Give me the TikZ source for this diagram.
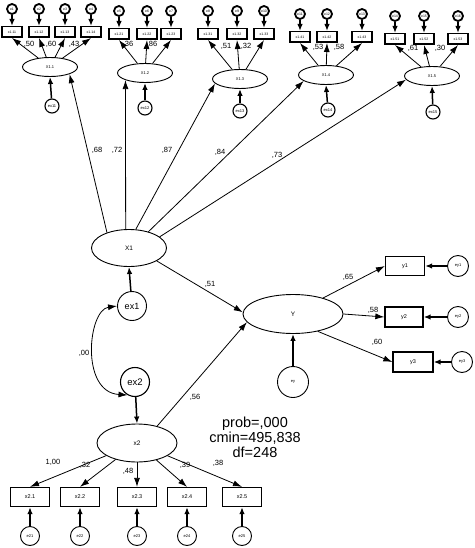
\documentclass[tikz,border=0pt]{standalone}
\usepackage{fontspec}
\setmainfont{Liberation Sans}
\usetikzlibrary{shapes.geometric,arrows.meta}
\begin{document}
\begin{tikzpicture}[x=1pt,y=-1pt,
  arr/.style={-{Latex[length=9pt,width=6pt]}, line width=0.8pt},
  sarr/.style={-{Latex[length=7pt,width=5.5pt]}, line width=1.5pt},
  lat/.style={ellipse, draw, line width=0.9pt, inner sep=0pt, font=\fontsize{6.5}{6.5}\selectfont},
  tlat/.style={lat, minimum width=55pt, minimum height=19pt, font=\fontsize{4}{4}\selectfont},
  obs/.style={rectangle, draw, line width=1.3pt, inner sep=0pt, font=\fontsize{5.5}{5.5}\selectfont},
  tobs/.style={obs, minimum width=20pt, minimum height=10.5pt, line width=1.5pt, font=\fontsize{3.5}{4}\selectfont},
  bobs/.style={obs, minimum width=39pt, minimum height=19pt},
  err/.style={circle, draw, line width=0.9pt, inner sep=0pt, font=\fontsize{4}{4}\selectfont},
  terr/.style={circle, draw, line width=1.8pt, inner sep=0pt, minimum size=10pt, font=\fontsize{3.5}{3.5}\selectfont},
  lab/.style={font=\fontsize{7.5}{8}\selectfont, inner sep=0.5pt},
]
\useasboundingbox (0,0) rectangle (474,548);

% first-order latent factors
\node[tlat] (X11) at (50,67) {X1.1};
\node[tlat] (X12) at (145,73) {X1.2};
\node[tlat] (X13) at (240,79) {X1.3};
\node[tlat] (X14) at (326,75) {X1.4};
\node[tlat] (X15) at (432,76) {X1.5};

% residuals of first-order factors
\node[err, minimum size=14pt, line width=1.1pt] (r1) at (52,106) {ex11};
\node[err, minimum size=14pt, line width=1.1pt] (r2) at (145,108) {ex12};
\node[err, minimum size=14pt, line width=1.1pt] (r3) at (240,111) {ex13};
\node[err, minimum size=14pt, line width=1.1pt] (r4) at (328,110) {ex14};
\node[err, minimum size=14pt, line width=1.1pt] (r5) at (433,112) {ex15};
\foreach \r/\g in {r1/X11, r2/X12, r3/X13, r4/X14, r5/X15}
  \draw[sarr] (\r) -- (\g.south);

% indicators of first-order factors
\foreach \n/\px/\py/\lbl/\el/\g in {
  a/12/32/x1.11/e1/X11, b/39/32/x1.12/e2/X11, c/65/32/x1.13/e3/X11, d/91/32/x1.14/e4/X11,
  f/119/34/x1.21/e5/X12, g/147/34/x1.22/e6/X12, h/171/34/x1.23/e7/X12,
  i/208/34/x1.31/e8/X13, j/237/34/x1.32/e9/X13, k/264/34/x1.33/e10/X13,
  l/300/37/x1.41/e11/X14, m/327/37/x1.42/e12/X14, o/362/37/x1.43/e13/X14,
  p/395/39/x1.51/e14/X15, q/424/39/x1.52/e15/X15, s/458/39/x1.53/e16/X15}{
  \node[tobs] (\n) at (\px,\py) {\lbl};
  \node[terr] (e\n) at (\px,\py-23) {\el};
  \draw[sarr] (e\n) -- (\n.north);
  \draw[arr] (\g) -- (\n.south);
}

% loading labels (top)
\node[lab] (l1) at (29,44) {,50};
\node[lab] (l2) at (51,44) {,60};
\node[lab] (l3) at (74,44) {,43};
\node[lab] (l4) at (128,44) {,36};
\node[lab] (l5) at (152,44) {,86};
\node[lab] (l6) at (226,46) {,51};
\node[lab] (l7) at (246,46) {,32};
\node[lab] (l8) at (318,47) {,53};
\node[lab] (l9) at (339,47) {,58};
\node[lab] (l10) at (413,48) {,61};
\node[lab] (l11) at (440,48) {,30};

% second-order factor
\node[lat, minimum width=75pt, minimum height=37pt] (X1) at (129,248) {X1};
\draw[arr] (X1.145) -- (X11.-20);
\draw[arr] (X1.100) -- (X12.-160);
\draw[arr] (X1.70) -- (X13.-170);
\draw[arr] (X1.40) -- (X14.-165);
\draw[arr] (X1.20) -- (X15.-172);
\node[lab] (m1) at (97,150) {,68};
\node[lab] (m2) at (117,150) {,72};
\node[lab] (m3) at (167,150) {,87};
\node[lab] (m4) at (220,152) {,84};
\node[lab] (m5) at (277,155) {,73};

% Y and its indicators
\node[lat, minimum width=100pt, minimum height=39pt] (Y) at (293,314) {Y};
\node[obs, minimum width=39pt, minimum height=19pt] (y1) at (405,266) {y1};
\node[obs, minimum width=38pt, minimum height=20pt] (y2) at (404,317) {y2};
\node[obs, minimum width=40pt, minimum height=20pt] (y3) at (413,362) {y3};
\node[err, minimum size=21pt] (ey1) at (458,266) {ey1};
\node[err, minimum size=21pt] (ey2) at (458,317) {ey2};
\node[err, minimum size=21pt] (ey3) at (462,362) {ey3};
\node[err, minimum size=31pt] (eY) at (293,382) {ey};
\draw[arr] (Y.28) -- (y1.west);
\draw[arr] (Y.east) -- (y2.west);
\draw[arr] (Y.-35) -- (y3.west);
\draw[sarr] (ey1) -- (y1.east);
\draw[sarr] (ey2) -- (y2.east);
\draw[sarr] (ey3) -- (y3.east);
\draw[sarr] (eY) -- (Y.south);
\node[lab] (n1) at (348,277) {,65};
\node[lab] (n2) at (373,310) {,58};
\node[lab] (n3) at (377,342) {,60};

% disturbances and covariance
\node[err, minimum size=29pt, font=\fontsize{9}{9}\selectfont] (ex1) at (132,306) {ex1};
\node[err, minimum size=29pt, line width=1.1pt, font=\fontsize{9.5}{9.5}\selectfont] (ex2) at (135,382) {ex2};
\draw[sarr] (ex1) -- (X1.south);
\draw[{Latex[length=9pt,width=6pt]}-{Latex[length=9pt,width=6pt]}, line width=0.8pt]
  (ex1.west) .. controls (88,310) and (80,392) .. (ex2.-120);
\node[lab] (c1) at (84,353) {,00};

% x2 factor
\node[lat, minimum width=80pt, minimum height=38pt] (x2) at (137,443) {x2};
\draw[sarr] (ex2) -- (x2.north);
\draw[arr] (X1.-25) -- (Y.178);
\draw[arr] (x2.40) -- (Y.190);
\node[lab] (n4) at (210,284) {,51};
\node[lab] (n5) at (195,397) {,56};

\foreach \n/\px/\lbl/\el in {b1/30/x2.1/e21, b2/80/x2.2/e22, b3/137/x2.3/e23, b4/187/x2.4/e24, b5/242/x2.5/e25}{
  \node[bobs] (\n) at (\px,497) {\lbl};
  \node[err, minimum size=19pt] (e\n) at (\px,536) {\el};
  \draw[sarr] (e\n) -- (\n.south);
  \draw[arr] (x2) -- (\n.north);
}
\node[lab] (k1) at (53,462) {1,00};
\node[lab] (k2) at (85,465) {,32};
\node[lab] (k3) at (128,471) {,48};
\node[lab] (k4) at (185,465) {,39};
\node[lab] (k5) at (218,463) {,38};

% fit statistics
\node[align=center, font=\fontsize{14.5}{15}\selectfont, inner sep=0pt] (fit) at (255,437) {prob=,000\\cmin=495,838\\df=248};
\end{tikzpicture}
\end{document}
